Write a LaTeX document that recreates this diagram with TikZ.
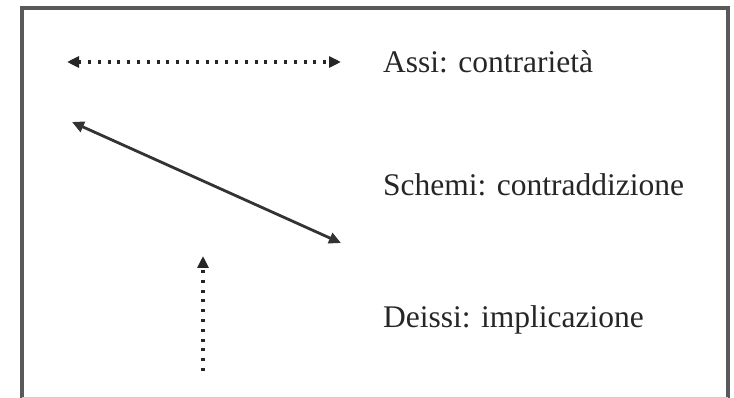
\documentclass[tikz,border=0pt]{standalone}
\usepackage{fontspec}
\setmainfont{Liberation Serif}
\usetikzlibrary{arrows.meta}
\begin{document}
\begin{tikzpicture}[x=1pt,y=-1pt,
  frame/.style={draw=black!65,line width=3.2pt},
  lbl/.style={anchor=west,inner sep=0pt,font=\fontsize{31.5}{36}\selectfont,text=black!85},
  dotline/.style={line width=3.4pt,dash pattern=on 3pt off 6.8pt,black!85},
  solidline/.style={line width=2.8pt,black!80},
  tip/.style={arrows={-{Triangle[length=12pt,width=11pt]}}},
  tips/.style={arrows={{Triangle[length=12pt,width=11pt]}-{Triangle[length=12pt,width=11pt]}}}]
\useasboundingbox (0,0) rectangle (734,398);
\draw[frame] (22,400) -- (22,8) -- (728,8) -- (728,400);
\draw[black!20,line width=1pt] (22,397) -- (728,397);
\coordinate (a1) at (67,62);
\coordinate (a2) at (341,62);
\coordinate (b1) at (72,122);
\coordinate (b2) at (341,243);
\coordinate (c1) at (203,371);
\coordinate (c2) at (203,256);
\draw[dotline,tips] (a1) -- (a2);
\draw[solidline,tips] (b1) -- (b2);
\draw[dotline,tip] (c1) -- (c2);
\node[lbl] (t1) at (383,62) {Assi: contrarietà};
\node[lbl] (t2) at (383,185) {Schemi: contraddizione};
\node[lbl] (t3) at (383,320) {Deissi: implicazione};
\end{tikzpicture}
\end{document}
